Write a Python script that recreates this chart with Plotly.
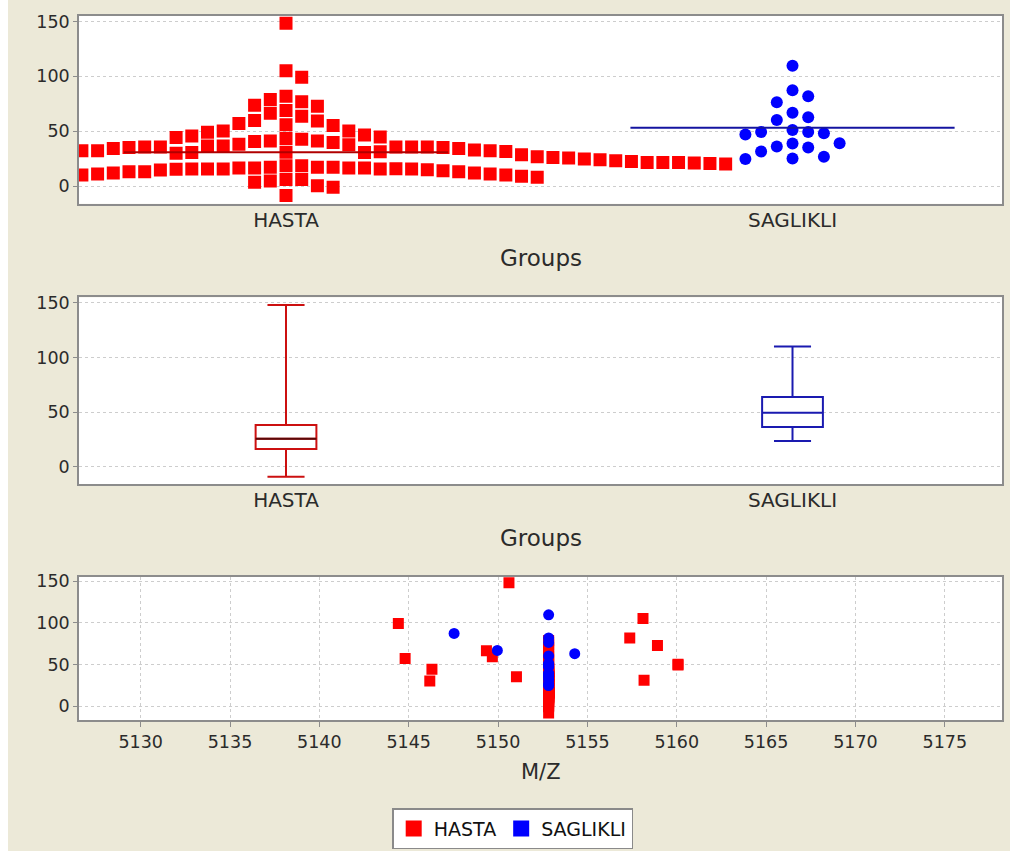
import plotly.graph_objects as go

# ---------------- data ----------------
categories = ["HASTA", "SAGLIKLI"]
P = 5152.83  # M/Z of the main peak

# HASTA samples: intensity and the M/Z where the peak was found (sample order)
hasta_values = [
    148.3, 105.2, 81.9, 69.0, 56.0, 43.5, 31.0, 18.6, 6.2, -8.5,
    99.1, 76.9, 63.8, 42.8, 18.6, 6.2,
    78.9, 66.5, 41.2, 17.2, 4.8,
    72.9, 59.3, 41.2, 17.2, 0.5,
    73.8, 59.9, 40.7, 16.5, 3.6,
    55.4, 39.8, 17.2,
    57.2, 38.2, 16.5, -0.9,
    50.3, 37.8, 16.5,
    50.3, 36.7, 15.6,
    46.7, 30.7, 16.5,
    49.2, 36.7, 15.6,
    44.8, 31.3, 15.6,
    45.7, 30.7, 15.6,
    35.8, 16.0,
    44.3, 30.1, 15.4,
    35.8, 15.7, 35.8, 14.7, 35.8, 15.1, 35.8, 13.2, 35.2, 14.1, 35.2, 13.2,
    34.4, 13.2, 34.4, 12.0, 33.1, 12.0, 32.2, 11.1, 32.2, 11.1, 32.2, 10.2,
    31.6, 10.2, 28.6, 9.0, 26.8, 8.1,
    26.2, 25.6, 24.7, 24.1, 23.2, 22.6, 21.7, 21.7, 21.7, 21.1, 20.8, 20.2,
]
hasta_mz = [
    5150.61, 5158.11, 5157.37, P, P, P, 5158.17, P, P, P,
    5144.42, P, P, P, P, P,
    P, 5149.35, P, P, P,
    5158.92, 5149.68, P, P, P,
    P, P, P, P, P,
    P, P, P,
    5144.80, P, P, P,
    P, P, P,
    5160.07, P, P,
    P, P, P,
    5160.07, P, P,
    P, P, P,
    P, P, P,
    P, P,
    5146.30, 5146.18, P,
    P, P, P, P, P, P, P, P, P, P, 5151.03, P,
    P, P, P, P, P, P, P, P, P, P, P, P,
    P, P, P, P, P, P,
    P, P, P, P, P, P, P, P, P, P, P, P,
]

# SAGLIKLI samples
saglikli_values = [
    109.7, 87.3, 66.9, 51.2, 38.9, 25.3,
    76.5, 60.2, 36.2,
    81.9, 62.9, 49.4, 35.3,
    49.4, 31.6,
    48.2, 26.8,
    47.2, 24.7,
    39.2,
]
saglikli_mz = [
    P, 5147.54, 5149.96, P, P, P,
    P, P, P,
    P, 5154.29, P, P,
    P, P,
    P, P,
    P, P,
    P,
]

group_means = [31.0, 53.3]

box_min = [-9.0, 23.6]
box_q1 = [16.3, 36.6]
box_median = [25.7, 49.6]
box_q3 = [38.4, 63.8]
box_max = [148.0, 110.0]

value_ticks = [0, 50, 100, 150]
mz_ticks = [5130, 5135, 5140, 5145, 5150, 5155, 5160, 5165, 5170, 5175]

# ---------------- layout constants ----------------
W, H = 1002, 851
ML, MR = 71, 8
PW = W - ML - MR
BG = "#ECE9D8"
RED = "#FF0000"
BLUE = "#0000FF"
FONT = "DejaVu Sans"
TXT = "#2b2b2b"

cat_range = [-0.4087, 1.4136]
val_range = [-16, 155]
mz_range = [5126.55, 5178.2]
mz_val_range = [-17.1, 155.6]

swarm_step = 0.031      # horizontal spacing of the dot columns (category units)
swarm_gap = 12.2        # vertical clearance between markers of one column (value units)
mean_half = 0.32
box_w = 0.12


def dom(top_px, bottom_px):
    return [1 - bottom_px / H, 1 - top_px / H]


def swarm(values, first_side, kmin):
    """Greedy dot-plot layout in sample order: each dot goes to the nearest
    column (searching outwards, alternating sides) where it does not overlap."""
    cand = [0]
    for d in range(1, 300):
        cand += [first_side * d, -first_side * d]
    cols, ks = {}, []
    for v in values:
        for k in cand:
            if k < kmin:
                continue
            if all(abs(v - w) >= swarm_gap for w in cols.get(k, [])):
                cols.setdefault(k, []).append(v)
                ks.append(k)
                break
    return ks


fig = go.Figure()

# ---- top: dot plot ----
kmin_h = -int((0 - cat_range[0]) / swarm_step)
kh = swarm(hasta_values, +1, kmin_h)
ks = swarm(saglikli_values, -1, -1000)
fig.add_trace(go.Scatter(
    x=[0 + k * swarm_step for k in kh], y=hasta_values, mode="markers",
    marker=dict(symbol="square", size=13, color=RED), showlegend=False,
    xaxis="x", yaxis="y", name="HASTA"))
fig.add_trace(go.Scatter(
    x=[1 + k * swarm_step for k in ks], y=saglikli_values, mode="markers",
    marker=dict(symbol="circle", size=12, color=BLUE), showlegend=False,
    xaxis="x", yaxis="y", name="SAGLIKLI"))
for i, (m, c) in enumerate(zip(group_means, ["#B00000", "#1414A0"])):
    fig.add_trace(go.Scatter(
        x=[i - mean_half, i + mean_half], y=[m, m], mode="lines",
        line=dict(color=c, width=2), showlegend=False, xaxis="x", yaxis="y",
        hoverinfo="skip"))

# ---- middle: box plots ----
for i, c in enumerate(["#CC1010", "#1A1AB0"]):
    fig.add_trace(go.Box(
        x=[i], q1=[box_q1[i]], median=[box_median[i]], q3=[box_q3[i]],
        lowerfence=[box_min[i]], upperfence=[box_max[i]],
        width=box_w, whiskerwidth=0.61, line=dict(color=c, width=2),
        fillcolor="white", boxpoints=False, showlegend=False,
        xaxis="x2", yaxis="y2", name=categories[i]))
# darker median stroke of the HASTA box
fig.add_trace(go.Scatter(
    x=[0 - box_w / 2, 0 + box_w / 2], y=[box_median[0], box_median[0]],
    mode="lines", line=dict(color="#5a0808", width=2), showlegend=False,
    xaxis="x2", yaxis="y2", hoverinfo="skip"))

# ---- bottom: M/Z scatter ----
fig.add_trace(go.Scatter(
    x=hasta_mz, y=hasta_values, mode="markers",
    marker=dict(symbol="square", size=11, color=RED), showlegend=False,
    xaxis="x3", yaxis="y3", name="HASTA"))
fig.add_trace(go.Scatter(
    x=saglikli_mz, y=saglikli_values, mode="markers",
    marker=dict(symbol="circle", size=11, color=BLUE), showlegend=False,
    xaxis="x3", yaxis="y3", name="SAGLIKLI"))

# legend entries (both shown as squares, like the reference)
for name, c in zip(categories, [RED, BLUE]):
    fig.add_trace(go.Scatter(
        x=[None], y=[None], mode="markers", name=name,
        marker=dict(symbol="square", size=16, color=c),
        xaxis="x3", yaxis="y3"))

frame = dict(showline=True, mirror=True, linecolor="#8c8c8c", linewidth=1.5,
             zeroline=False)
ygrid = dict(showgrid=True, gridcolor="#cdcdcd", gridwidth=1, griddash="3px,3px")
yax = dict(tickvals=value_ticks, ticks="outside", ticklen=4, tickcolor="#8c8c8c",
           tickfont=dict(family=FONT, size=17.5, color=TXT), **frame, **ygrid)
catax = dict(range=cat_range, tickvals=[0, 1], ticktext=categories, ticks="",
             showgrid=False, tickfont=dict(family=FONT, size=20, color=TXT),
             ticklabelstandoff=-3, **frame)

fig.update_layout(
    width=W, height=H,
    margin=dict(l=ML, r=MR, t=0, b=0),
    paper_bgcolor=BG, plot_bgcolor="white",
    font=dict(family=FONT, color=TXT),
    xaxis=dict(domain=[0, 1], anchor="y", **catax),
    yaxis=dict(domain=dom(11, 200), anchor="x", range=val_range, **yax),
    xaxis2=dict(domain=[0, 1], anchor="y2", **catax),
    yaxis2=dict(domain=dom(294, 482.3), anchor="x2", range=val_range, **yax),
    xaxis3=dict(domain=[0, 1], anchor="y3", range=mz_range, tickvals=mz_ticks,
                ticks="outside", ticklen=5, tickcolor="#8c8c8c",
                tickfont=dict(family=FONT, size=17.5, color=TXT),
                showgrid=True, gridcolor="#cdcdcd", gridwidth=1, griddash="3px,3px",
                **frame),
    yaxis3=dict(domain=dom(575, 719.5), anchor="x3", range=mz_val_range, **yax),
    showlegend=True,
    legend=dict(orientation="h", x=(504.7 - ML) / PW, xanchor="center",
                y=1 - 808 / H, yanchor="top", bgcolor="white",
                bordercolor="#8a8a8a", borderwidth=1.5, itemwidth=30,
                font=dict(family=FONT, size=19, color="#111")),
    annotations=[
        dict(text="Groups", xref="paper", yref="paper", x=0.5, y=1 - 254 / H,
             showarrow=False, xanchor="center", yanchor="middle",
             font=dict(family=FONT, size=23, color=TXT)),
        dict(text="Groups", xref="paper", yref="paper", x=0.5, y=1 - 536 / H,
             showarrow=False, xanchor="center", yanchor="middle",
             font=dict(family=FONT, size=23, color=TXT)),
        dict(text="M/Z", xref="paper", yref="paper", x=0.5, y=1 - 772 / H,
             showarrow=False, xanchor="center", yanchor="middle",
             font=dict(family=FONT, size=21, color=TXT)),
    ],
)

fig.write_html(
    "out.html",
    post_script="document.body.style.margin='0 0 0 8px';"
                "document.body.style.overflow='hidden';")
